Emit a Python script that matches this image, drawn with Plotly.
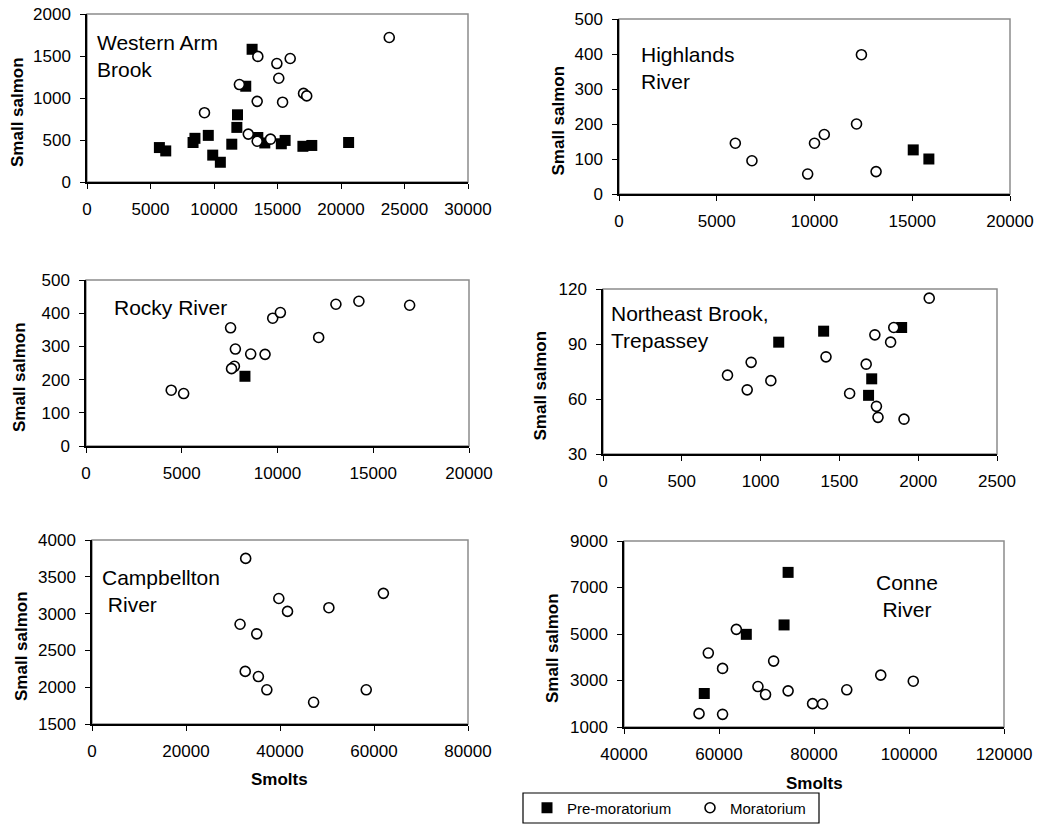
import plotly.graph_objects as go

# ---------------- data ----------------
# Western Arm Brook
wab_pre_x = [5700, 6200, 8350, 8500, 9550, 9900, 10500, 11400, 11800, 11850, 12500, 13000, 13450, 14000, 15300, 15600, 17000, 17700, 20600]
wab_pre_y = [410, 370, 470, 520, 555, 320, 235, 450, 650, 800, 1140, 1580, 530, 465, 455, 495, 425, 435, 470]
wab_mor_x = [23800, 13450, 14950, 16000, 15100, 12000, 17050, 17300, 13400, 15400, 9250, 12700, 14450, 13400]
wab_mor_y = [1720, 1495, 1410, 1470, 1235, 1160, 1055, 1025, 960, 950, 825, 570, 510, 485]

# Highlands River
hr_pre_x = [15050, 15850]
hr_pre_y = [126, 100]
hr_mor_x = [5950, 6800, 9650, 10000, 10500, 12150, 12400, 13150]
hr_mor_y = [145, 95, 57, 145, 170, 200, 398, 64]

# Rocky River
rr_pre_x = [8300]
rr_pre_y = [210]
rr_mor_x = [4450, 5100, 7550, 7800, 7750, 7600, 8600, 9350, 9750, 10150, 12150, 13050, 14250, 16900]
rr_mor_y = [168, 158, 356, 292, 240, 233, 277, 276, 385, 402, 327, 427, 436, 424]

# Northeast Brook, Trepassey
nb_pre_x = [1115, 1400, 1705, 1685, 1895]
nb_pre_y = [91, 97, 71, 62, 99]
nb_mor_x = [790, 915, 940, 1065, 1415, 1565, 1670, 1725, 1735, 1745, 1825, 1845, 1910, 2070]
nb_mor_y = [73, 65, 80, 70, 83, 63, 79, 95, 56, 50, 91, 99, 49, 115]

# Campbellton River
cr_pre_x = []
cr_pre_y = []
cr_mor_x = [32700, 31500, 35050, 39750, 41600, 50400, 62000, 32600, 35400, 37200, 47150, 58350]
cr_mor_y = [3750, 2855, 2725, 3205, 3030, 3080, 3275, 2215, 2145, 1965, 1795, 1965]

# Conne River
cn_pre_x = [74550, 73700, 65750, 56900]
cn_pre_y = [7650, 5390, 4985, 2440]
cn_mor_x = [63650, 57750, 60750, 71500, 68200, 69800, 74550, 55800, 60750, 79700, 81800, 86900, 94050, 100900]
cn_mor_y = [5200, 4180, 3520, 3835, 2740, 2395, 2555, 1575, 1545, 2005, 1990, 2600, 3230, 2970]

panel_names = ["Western Arm<br>Brook", "Highlands<br>River", "Rocky River",
               "Northeast Brook,<br>Trepassey", "Campbellton<br>\u00a0River", "Conne<br>River"]
x_ranges = [[0, 30000], [0, 20000], [0, 20000], [0, 2500], [0, 80000], [40000, 120000]]
y_ranges = [[0, 2000], [0, 500], [0, 500], [30, 120], [1500, 4000], [1000, 9000]]
x_dticks = [5000, 5000, 5000, 500, 20000, 20000]
y_dticks = [500, 100, 100, 30, 500, 2000]
series_names = ["Pre-moratorium", "Moratorium"]
y_title = "Small salmon"
x_title = "Smolts"

pre_sets = [(wab_pre_x, wab_pre_y), (hr_pre_x, hr_pre_y), (rr_pre_x, rr_pre_y),
            (nb_pre_x, nb_pre_y), (cr_pre_x, cr_pre_y), (cn_pre_x, cn_pre_y)]
mor_sets = [(wab_mor_x, wab_mor_y), (hr_mor_x, hr_mor_y), (rr_mor_x, rr_mor_y),
            (nb_mor_x, nb_mor_y), (cr_mor_x, cr_mor_y), (cn_mor_x, cn_mor_y)]

# ---------------- layout geometry (pixels) ----------------
W, H = 1042, 825
boxes = [  # left, right, top, bottom
    (87, 468, 14, 182),
    (619, 1010, 19, 194),
    (86, 469, 280, 446),
    (603, 997, 289, 454),
    (92, 468, 540, 724),
    (624, 1004, 541, 727),
]
ytitle_x = [18, 558, 19, 540, 21, 552]
label_pos = [  # x px, y px (top), anchor
    (95, 29, "left"), (639, 41, "left"), (112, 294, "left"),
    (609, 300, "left"), (100, 564, "left"), (907, 569, "center"),
]
xtitle_pos = {4: (279, 779), 5: (814, 783)}

FONT = "Liberation Sans, Arial, Helvetica, sans-serif"

fig = go.Figure()
layout = dict(
    width=W, height=H, margin=dict(l=0, r=0, t=0, b=0, autoexpand=False),
    paper_bgcolor="white", plot_bgcolor="white",
    font=dict(family=FONT, color="black", size=15),
    showlegend=True,
    legend=dict(orientation="h", x=527 / W, xanchor="left", y=1 - 808 / H, yanchor="middle",
                borderwidth=0, bgcolor="rgba(0,0,0,0)",
                font=dict(size=15, family=FONT, color="black"), itemwidth=30),
    legend2=dict(orientation="h", x=690 / W, xanchor="left", y=1 - 808 / H, yanchor="middle",
                 borderwidth=0, bgcolor="rgba(0,0,0,0)",
                 font=dict(size=15, family=FONT, color="black"), itemwidth=30),
)
annotations = []
shapes = []

for i in range(6):
    l, r, t, b = boxes[i]
    ax = "" if i == 0 else str(i + 1)
    xa = "xaxis" + ax
    ya = "yaxis" + ax
    common = dict(showgrid=False, zeroline=False, showline=True, linecolor="black",
                  linewidth=1.5, ticks="outside", ticklen=5, tickwidth=1.2, tickcolor="black",
                  tickformat="d", automargin=False,
                  tickfont=dict(size=17, family=FONT, color="black"), fixedrange=True)
    layout[xa] = dict(domain=[l / W, r / W], range=x_ranges[i], dtick=x_dticks[i],
                      tick0=x_ranges[i][0], anchor="y" + ax, ticklabelstandoff=6, **common)
    layout[ya] = dict(domain=[1 - b / H, 1 - t / H], range=y_ranges[i], dtick=y_dticks[i],
                      tick0=y_ranges[i][0], anchor="x" + ax, ticklabelstandoff=6, **common)
    # gray frame (top/right visible)
    shapes.append(dict(type="rect", xref="x" + ax + " domain", yref="y" + ax + " domain",
                       x0=0, x1=1, y0=0, y1=1, line=dict(color="#8c8c8c", width=1.5),
                       layer="below"))
    px_, py_ = pre_sets[i]
    mx_, my_ = mor_sets[i]
    fig.add_trace(go.Scatter(x=px_, y=py_, mode="markers", name=series_names[0],
                             legendgroup="pre", showlegend=(i == 0), legend="legend",
                             marker=dict(symbol="square", size=11, color="black",
                                         line=dict(width=0)),
                             xaxis="x" + ax, yaxis="y" + ax, cliponaxis=False))
    fig.add_trace(go.Scatter(x=mx_, y=my_, mode="markers", name=series_names[1],
                             legendgroup="mor", showlegend=(i == 0), legend="legend2",
                             marker=dict(symbol="circle", size=10, color="white",
                                         line=dict(width=1.6, color="black")),
                             xaxis="x" + ax, yaxis="y" + ax, cliponaxis=False))
    # y axis title
    annotations.append(dict(text="<b>" + y_title + "</b>", textangle=-90,
                            x=ytitle_x[i] / W, y=1 - ((t + b) / 2 + 14) / H,
                            xref="paper", yref="paper", showarrow=False,
                            xanchor="center", yanchor="middle",
                            font=dict(size=17, family=FONT, color="black")))
    # panel label
    lx, ly, anc = label_pos[i]
    annotations.append(dict(text=panel_names[i], x=lx / W, y=1 - ly / H,
                            xref="paper", yref="paper", showarrow=False,
                            xanchor=anc, yanchor="top", align=anc,
                            font=dict(size=21, family=FONT, color="black")))
    if i in xtitle_pos:
        tx, ty = xtitle_pos[i]
        annotations.append(dict(text="<b>" + x_title + "</b>", x=tx / W, y=1 - ty / H,
                                xref="paper", yref="paper", showarrow=False,
                                xanchor="center", yanchor="middle",
                                font=dict(size=17, family=FONT, color="black")))

# legend frame
shapes.append(dict(type="rect", xref="paper", yref="paper",
                   x0=523 / W, x1=819 / W, y0=1 - 823 / H, y1=1 - 793 / H,
                   line=dict(color="black", width=1.2), layer="below"))

layout["annotations"] = annotations
layout["shapes"] = shapes
fig.update_layout(**layout)
fig.write_html("out.html")
